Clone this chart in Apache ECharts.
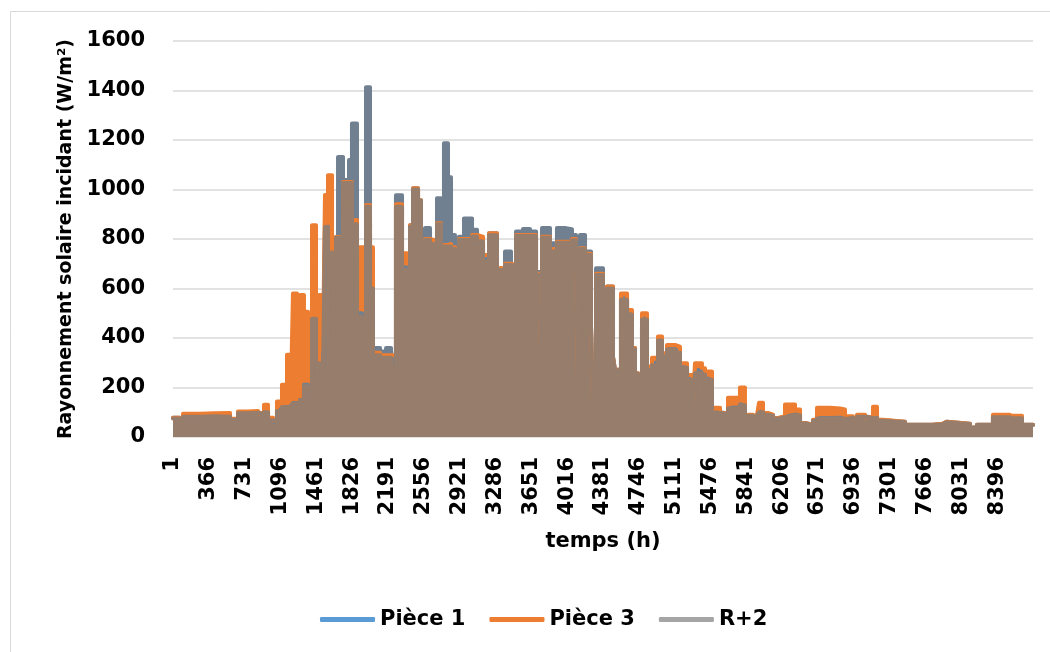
<!DOCTYPE html>
<html>
<head>
<meta charset="utf-8">
<script src="https://cdn.jsdelivr.net/npm/echarts@6/dist/echarts.min.js"></script>
<style>
html,body{margin:0;padding:0;background:#fff;}
#chart{width:1050px;height:652px;}
</style>
</head>
<body>
<div id="chart"></div>
<script>
// Hour at which each reading starts (step segments)
const hours = [0,71,102,275,428,581,662,764,866,927,968,1019,1059,1110,1161,1202,1222,1263,1294,1334,1375,1416,1457,1487,1528,1548,1579,1620,1660,1681,1732,1793,1823,1874,1925,1966,2007,2037,2109,2170,2221,2241,2271,2333,2384,2414,2445,2496,2526,2567,2618,2659,2689,2730,2760,2801,2832,2872,2913,2964,3046,3097,3158,3219,3300,3331,3382,3443,3494,3565,3636,3698,3718,3759,3840,3911,4003,4064,4105,4125,4146,4197,4258,4278,4309,4380,4421,4482,4502,4563,4625,4675,4706,4736,4777,4828,4879,4940,4981,5032,5113,5164,5236,5297,5317,5388,5419,5490,5500,5572,5653,5724,5775,5826,5857,5908,5949,5969,6010,6061,6112,6163,6234,6336,6387,6438,6519,6560,6692,6794,6845,6875,6926,6967,7049,7130,7171,7232,7456,7731,7843,7884,8118,8189,8352,8525,8546,8648,8760];
const piece1 = [78,57,84,86,84,72,98,100,92,105,72,62,110,120,125,120,137,140,150,211,170,480,220,300,250,850,750,400,808,1131,1038,1119,1267,500,480,1413,600,360,345,360,350,284,977,686,682,856,1005,957,694,844,795,742,965,635,1187,1050,816,645,809,883,837,790,720,823,365,682,749,695,830,840,830,352,667,844,783,844,840,816,700,243,816,749,446,138,682,460,608,324,272,560,500,360,258,178,480,280,300,395,330,360,350,290,240,123,270,260,235,97,100,95,118,120,131,42,88,70,90,102,92,88,75,82,90,90,57,50,68,77,78,76,75,80,57,84,78,80,68,62,50,54,62,54,38,50,82,62,78,50,50];
const piece3 = [78,57,94,96,97,74,103,105,96,130,78,66,143,211,332,200,580,200,574,506,453,856,300,574,350,978,1058,647,808,808,1030,1030,877,767,767,937,767,340,330,330,324,330,940,742,700,856,1005,957,700,800,796,742,864,640,776,780,767,640,800,800,816,809,735,823,365,682,700,695,816,816,816,352,660,809,760,789,789,800,700,243,763,740,446,138,660,460,608,324,272,580,513,360,258,178,500,285,320,406,338,372,365,298,251,123,298,278,265,97,118,97,159,159,200,42,90,70,90,138,97,90,77,84,131,111,57,50,70,118,115,111,84,84,57,90,80,122,70,62,50,54,62,54,38,50,90,62,86,50,50];
const r2 = [75,55,82,84,82,70,96,98,90,100,68,60,105,118,123,118,135,138,148,205,168,478,215,298,245,848,745,398,805,806,1026,1026,860,486,473,930,600,330,320,320,312,231,930,675,675,850,1000,955,690,796,780,735,860,630,770,770,760,635,796,796,810,790,708,815,360,675,695,690,812,812,812,350,655,805,750,785,785,795,690,240,760,735,440,135,655,455,600,320,270,555,495,355,255,175,475,270,290,390,325,355,340,280,230,120,258,250,231,95,97,92,115,118,128,40,86,68,88,100,90,86,74,80,88,88,55,48,66,75,76,74,74,78,55,82,76,78,66,60,48,52,60,52,36,48,80,60,76,48,48];

const seriesNames = ['Pièce 1', 'Pièce 3', 'R+2'];
const legendColors = ['#5B9BD5', '#ED7D31', '#A5A5A5'];
const drawColors = ['#718091', '#ED7D31', '#967D6C'];
const xTickStep = 365;

const chart = echarts.init(document.getElementById('chart'), null, {renderer: 'canvas'});
const FONT = 'DejaVu Sans';

function mk(name, vals, color) {
  return {
    name: name,
    type: 'line',
    step: 'end',
    showSymbol: false,
    symbol: 'none',
    animation: false,
    data: hours.map((h, i) => [h, vals[i]]),
    lineStyle: {color: color, width: 4, cap: 'round', join: 'round'},
    itemStyle: {color: color},
    areaStyle: {color: color, opacity: 1}
  };
}

chart.setOption({
  animation: false,
  backgroundColor: '#ffffff',
  graphic: [{
    type: 'rect', left: 8, top: 9, z: -10,
    shape: {x: 0, y: 0, width: 1100, height: 700},
    style: {fill: 'none', stroke: '#D9D9D9', lineWidth: 1}
  }],
  grid: {left: 173, right: 17, top: 41, bottom: 215},
  legend: {
    left: 315, top: 604,
    icon: 'roundRect',
    itemWidth: 55, itemHeight: 5, itemGap: 24,
    textStyle: {fontFamily: FONT, fontWeight: 'bold', fontSize: 21, color: '#000'},
    data: seriesNames.map((n, i) => ({name: n, itemStyle: {color: legendColors[i]}, lineStyle: {color: legendColors[i]}}))
  },
  xAxis: {
    type: 'value', min: 0, max: 8760, interval: xTickStep,
    name: 'temps (h)', nameLocation: 'middle', nameGap: 94,
    nameTextStyle: {fontFamily: FONT, fontWeight: 'bold', fontSize: 21, color: '#000'},
    axisLine: {show: false}, axisTick: {show: false}, splitLine: {show: false},
    axisLabel: {
      rotate: 90, margin: 20, showMinLabel: true, showMaxLabel: false,
      fontFamily: FONT, fontWeight: 'bold', fontSize: 21, color: '#000',
      formatter: v => (v >= 8760 ? '' : String(v + 1))
    }
  },
  yAxis: {
    type: 'value', min: 0, max: 1600, interval: 200,
    name: 'Rayonnement solaire incidant (W/m²)', nameLocation: 'middle', nameGap: 96,
    nameTextStyle: {fontFamily: FONT, fontWeight: 'bold', fontSize: 19, color: '#000'},
    axisLine: {show: false}, axisTick: {show: false},
    splitLine: {lineStyle: {color: '#D9D9D9', width: 1.5}},
    axisLabel: {margin: 28, fontFamily: FONT, fontWeight: 'bold', fontSize: 21, color: '#000',
      formatter: v => String(v)}
  },
  series: [
    mk(seriesNames[0], piece1, drawColors[0]),
    mk(seriesNames[1], piece3, drawColors[1]),
    mk(seriesNames[2], r2, drawColors[2])
  ]
});
</script>
</body>
</html>
